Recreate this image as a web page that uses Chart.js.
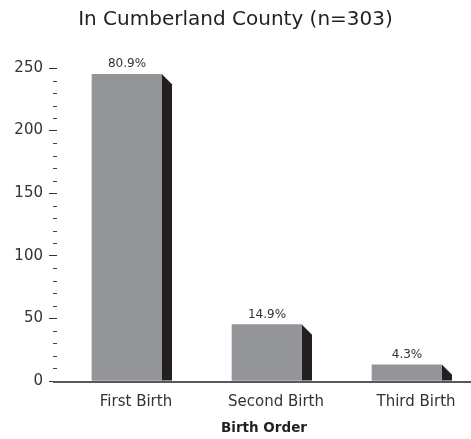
<!DOCTYPE html>
<html>
<head>
<meta charset="utf-8">
<script src="https://cdn.jsdelivr.net/npm/chart.js@4.4.1/dist/chart.umd.min.js"></script>
<style>
  html, body { margin: 0; padding: 0; background: #ffffff; }
  #wrap { width: 471px; height: 439px; }
</style>
</head>
<body>
<div id="wrap"><canvas id="c" width="471" height="439"></canvas></div>
<script>
// Birth order of mothers in Cumberland County (n=303)
const categories = ["First Birth", "Second Birth", "Third Birth"];
const births = [245, 45, 13];
const shareLabels = ["80.9%", "14.9%", "4.3%"];
const yTickValues = [0, 50, 100, 150, 200, 250];
const minorStep = 10;

const FONT = '"DejaVu Sans", "Liberation Sans", sans-serif';

// Draws the dark side face of each bar, its share label, the base line and minor ticks
const barDepth = {
  id: 'barDepth',
  afterDatasetsDraw(chart) {
    const ctx = chart.ctx;
    const meta = chart.getDatasetMeta(0);
    const y = chart.scales.y;
    const area = chart.chartArea;
    const depth = 10;
    ctx.save();
    meta.data.forEach((bar, i) => {
      const p = bar.getProps(['x', 'y', 'base', 'width'], true);
      const right = p.x + p.width / 2;
      ctx.fillStyle = '#231f20';
      ctx.beginPath();
      ctx.moveTo(right, p.y);
      ctx.lineTo(right + depth, p.y + depth);
      ctx.lineTo(right + depth, p.base);
      ctx.lineTo(right, p.base);
      ctx.closePath();
      ctx.fill();

      ctx.fillStyle = '#333333';
      ctx.font = '12px ' + FONT;
      ctx.textAlign = 'center';
      ctx.textBaseline = 'bottom';
      ctx.fillText(shareLabels[i], p.x, p.y - 4);
    });

    // base line
    const y0 = y.getPixelForValue(0);
    ctx.strokeStyle = '#58595b';
    ctx.lineWidth = 2;
    ctx.beginPath();
    ctx.moveTo(area.left - 4, y0 + 1);
    ctx.lineTo(chart.width, y0 + 1);
    ctx.stroke();

    // minor ticks
    ctx.strokeStyle = '#444444';
    ctx.lineWidth = 1;
    ctx.beginPath();
    for (let v = minorStep; v < y.max; v += minorStep) {
      if (yTickValues.includes(v)) continue;
      const py = Math.round(y.getPixelForValue(v)) + 0.5;
      ctx.moveTo(area.left - 4, py);
      ctx.lineTo(area.left, py);
    }
    ctx.stroke();
    ctx.restore();
  }
};

new Chart(document.getElementById('c'), {
  type: 'bar',
  data: {
    datasets: [{
      data: births.map((v, i) => ({ x: i, y: v })),
      backgroundColor: '#939598',
      borderWidth: 0,
      barThickness: 70
    }]
  },
  options: {
    responsive: false,
    devicePixelRatio: 1,
    animation: false,
    layout: { padding: { left: 0, right: 0, top: 0, bottom: 0 } },
    plugins: {
      legend: { display: false },
      tooltip: { enabled: false },
      title: {
        display: true,
        text: 'In Cumberland County (n=303)',
        color: '#231f20',
        font: { family: FONT, size: 20, weight: 'normal' },
        padding: { top: 8, bottom: 36 }
      }
    },
    scales: {
      x: {
        type: 'linear',
        offset: false,
        min: -0.5,
        max: 2.457,
        afterBuildTicks(scale) {
          scale.ticks = categories.map((_, i) => ({ value: i }));
        },
        afterFit(scale) { scale.height = 58; },
        grid: { display: false, drawTicks: false },
        border: { display: false },
        ticks: {
          callback: (v) => categories[v] ?? '',
          color: '#333333',
          font: { family: FONT, size: 15 },
          padding: 12,
          labelOffset: 9,
          maxRotation: 0,
          autoSkip: false
        },
        title: {
          display: true,
          text: 'Birth Order',
          color: '#231f20',
          font: { family: FONT, size: 13.5, weight: 'bold' },
          padding: { top: 0, bottom: 2 }
        }
      },
      y: {
        min: 0,
        max: 250,
        afterBuildTicks(scale) {
          scale.ticks = yTickValues.map(v => ({ value: v }));
        },
        afterFit(scale) { scale.width = 57; },
        grid: {
          drawOnChartArea: false,
          drawTicks: true,
          tickLength: 8,
          tickColor: '#333333',
          lineWidth: 1
        },
        border: { display: false },
        ticks: {
          color: '#333333',
          font: { family: FONT, size: 15 },
          padding: 6
        }
      }
    }
  },
  plugins: [barDepth]
});
</script>
</body>
</html>
